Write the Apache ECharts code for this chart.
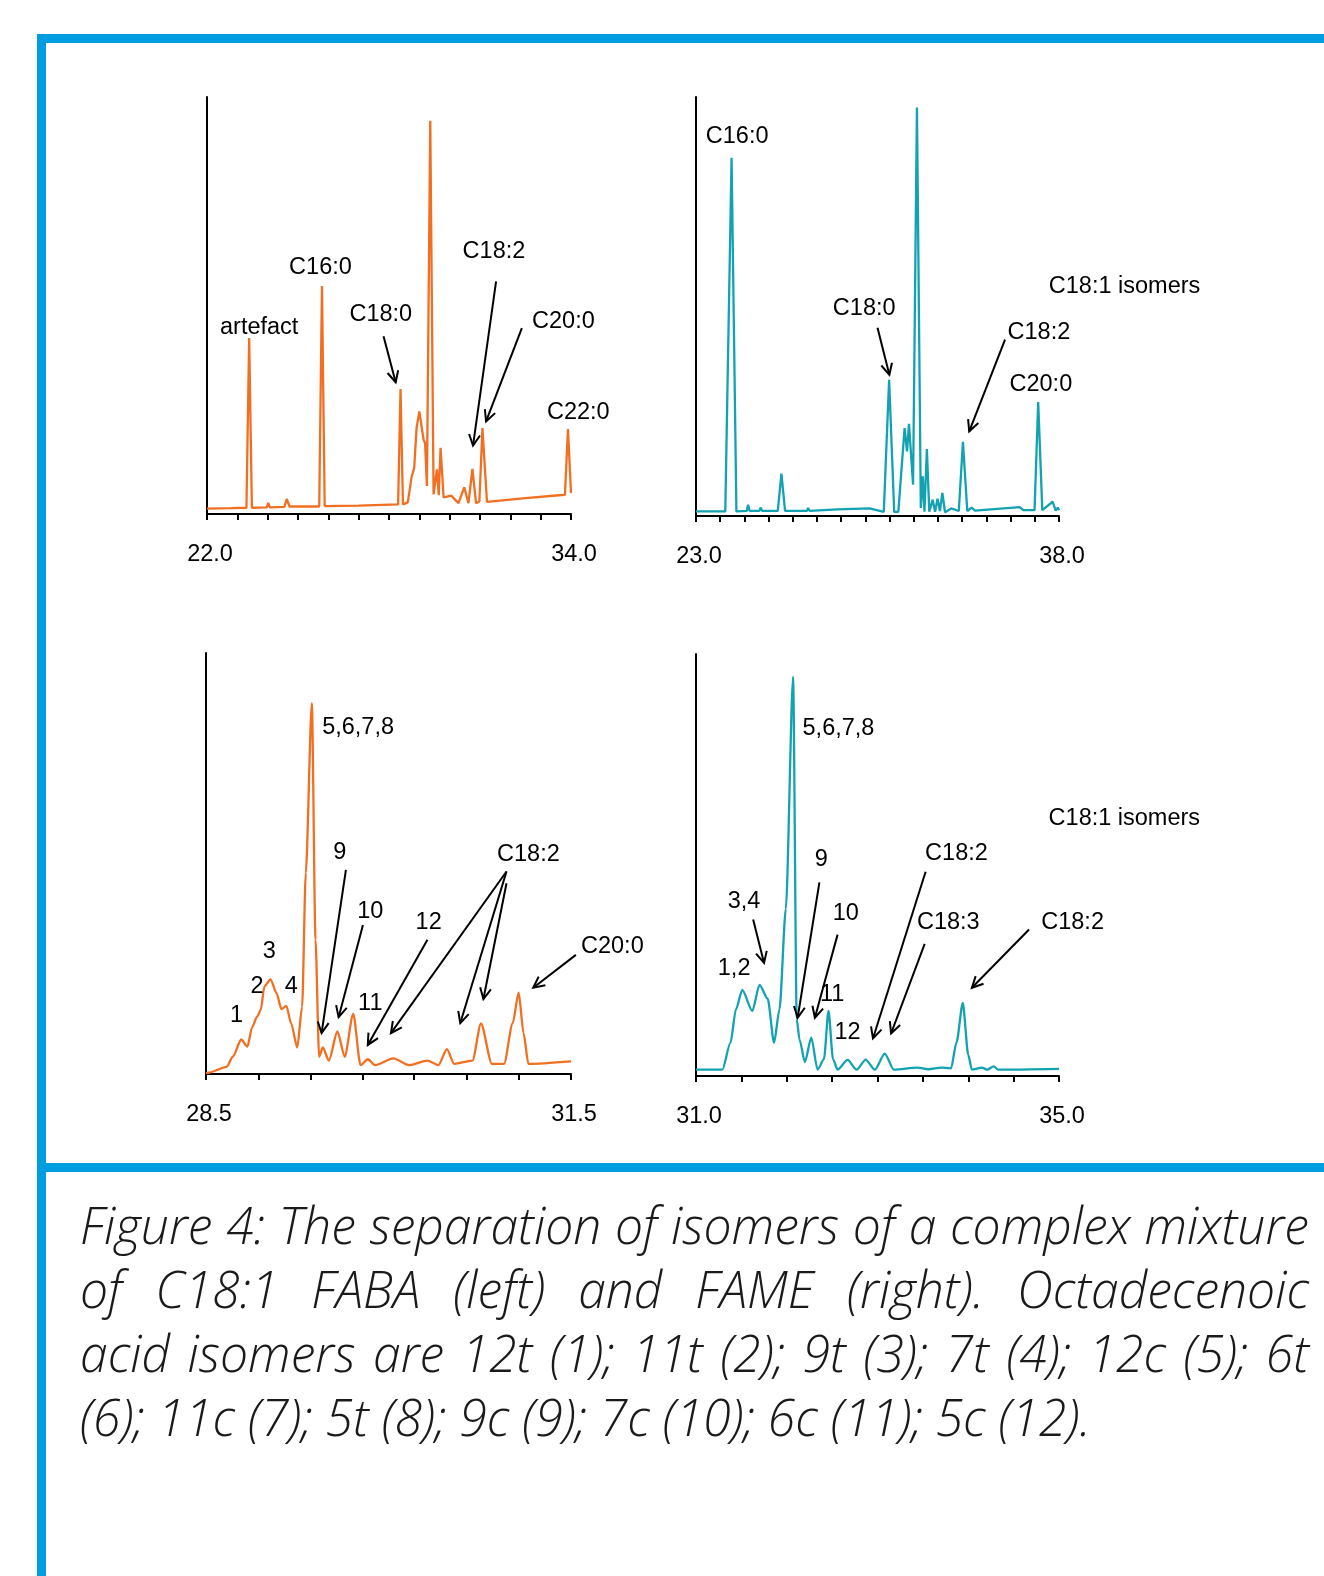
<!DOCTYPE html>
<html>
<head>
<meta charset="utf-8">
<script src="https://cdn.jsdelivr.net/npm/echarts@6/dist/echarts.min.js"></script>
<style>
html,body{margin:0;padding:0;background:#fff;}
#wrap{position:relative;width:1324px;height:1576px;overflow:hidden;}
#main{position:absolute;left:0;top:0;width:1324px;height:1576px;}
.cap{position:absolute;left:80px;font:italic 300 52px "Open Sans",sans-serif;line-height:64px;color:#1a1a1a;white-space:normal;transform-origin:0 0;}
</style>
</head>
<body>
<div id="wrap"><div id="main"></div><div id="caption"></div></div>
<script>
// retention time (min) , detector signal (% of axis height)
var fabaFull = [
  [22.00,1.3],[22.80,1.4],[23.30,1.5],[23.39,42.2],[23.48,1.5],[23.97,1.6],[24.02,2.7],[24.07,1.6],
  [24.55,1.7],[24.63,3.6],[24.72,1.8],[25.70,1.8],[25.79,54.7],[25.88,1.9],[27.00,2.0],[28.30,2.3],
  [28.38,30.0],[28.46,2.3],[28.62,2.8],[28.75,9.1],[28.83,11.0],[28.91,20.7],[29.00,24.6],[29.14,17.8],
  [29.19,17.0],[29.25,6.7],[29.36,94.3],[29.47,4.7],[29.58,10.7],[29.64,4.5],[29.70,15.9],[29.80,4.0],
  [30.05,4.4],[30.29,2.6],[30.48,6.4],[30.62,2.6],[30.75,10.8],[30.87,2.6],[30.98,3.0],[31.08,20.6],
  [31.23,2.9],[32.50,3.8],[33.60,4.5],[33.80,4.6],[33.90,20.4],[34.00,5.0]
];
var fameFull = [
  [23.00,1.1],[24.21,1.1],[24.47,85.5],[24.67,1.1],[25.10,1.2],[25.15,2.7],[25.22,1.2],[25.62,1.2],
  [25.67,2.0],[25.74,1.2],[26.38,1.2],[26.53,10.1],[26.68,1.2],[27.58,1.2],[27.63,1.9],[27.70,1.2],
  [28.84,1.6],[30.17,1.8],[30.76,1.0],[30.98,32.5],[31.19,1.0],[31.36,1.0],[31.62,21.0],[31.72,15.4],
  [31.80,22.0],[31.97,7.5],[32.13,97.5],[32.29,1.9],[32.37,9.5],[32.44,1.0],[32.54,16.0],[32.64,1.0],
  [32.78,3.9],[32.88,1.0],[32.98,4.1],[33.08,1.2],[33.18,5.5],[33.29,0.9],[33.54,1.8],[33.86,1.2],
  [34.03,17.7],[34.21,1.2],[34.39,2.0],[34.53,1.3],[36.38,2.1],[36.52,1.4],[36.99,1.4],[37.14,27.2],
  [37.31,1.4],[37.74,3.4],[37.86,1.3],[37.95,2.0],[38.00,1.4]
];
var fabaZoom = [
  [28.50,0.2],[28.52,0.3],[28.67,1.7],[28.72,4.1],[28.79,8.2],[28.84,6.5],[28.88,11.2],[28.92,13.6],
  [28.95,15.2],[28.98,20.8],[29.03,22.5],[29.08,19.2],[29.12,15.4],[29.16,16.2],[29.20,12.0],[29.25,6.3],
  [29.29,16.0],[29.32,47.7],[29.37,88.1],[29.40,31.9],[29.43,4.1],[29.46,6.3],[29.51,3.2],[29.58,10.1],
  [29.64,4.1],[29.71,14.3],[29.77,2.1],[29.83,3.5],[29.89,2.1],[30.04,3.7],[30.17,2.1],[30.32,3.2],
  [30.41,2.1],[30.48,5.9],[30.54,2.4],[30.69,3.2],[30.76,12.0],[30.85,2.4],[30.95,2.4],[31.02,12.0],
  [31.07,19.3],[31.11,9.7],[31.15,2.4],[31.50,3.0]
];
var fameZoom = [
  [31.00,1.5],[31.29,1.5],[31.38,7.9],[31.44,15.8],[31.51,20.4],[31.62,15.4],[31.70,21.6],[31.79,18.3],
  [31.86,7.9],[31.92,15.8],[31.99,39.6],[32.07,94.6],[32.11,13.5],[32.14,8.7],[32.20,3.3],[32.27,9.1],
  [32.34,1.5],[32.41,4.0],[32.46,15.4],[32.51,4.0],[32.56,1.5],[32.67,3.8],[32.77,1.5],[32.87,3.9],
  [32.97,1.5],[33.08,5.3],[33.18,1.5],[33.44,2.0],[33.56,1.6],[33.70,2.0],[33.81,1.8],[33.87,7.9],
  [33.94,17.3],[34.00,5.0],[34.04,1.5],[34.15,2.0],[34.21,1.5],[34.28,2.3],[34.33,1.5],[35.00,1.7]
];

var fabaFullTicks = [22,23,24,25,26,27,28,29,30,31,32,33,34];
var fameFullTicks = [23,24,25,26,27,28,29,30,31,32,33,34,35,36,37,38];
var fabaZoomTicks = [28.5,28.93,29.36,29.79,30.21,30.64,31.07,31.5];
var fameZoomTicks = [31,31.5,32,32.5,33,33.5,34,34.5,35];

// [panel, time, signal, text]
var peakLabels = [
  [0,23.72,44.8,'artefact'],[0,25.74,59.0,'C16:0'],[0,27.73,47.8,'C18:0'],[0,31.46,62.9,'C18:2'],
  [0,33.75,46.2,'C20:0'],[0,34.24,24.3,'C22:0'],
  [1,24.70,90.5,'C16:0'],[1,40.71,54.8,'C18:1 isomers'],[1,29.95,49.4,'C18:0'],[1,37.17,43.8,'C18:2'],
  [1,37.25,31.3,'C20:0'],
  [2,29.75,82.4,'5,6,7,8'],[2,29.60,52.5,'9'],[2,29.85,38.6,'10'],[2,30.33,36.0,'12'],[2,31.15,52.2,'C18:2'],
  [2,31.84,30.4,'C20:0'],[2,29.02,29.1,'3'],[2,28.92,20.8,'2'],[2,29.20,20.8,'4'],[2,28.75,13.8,'1'],
  [2,29.85,16.8,'11'],
  [3,32.57,82.4,'5,6,7,8'],[3,35.72,60.9,'C18:1 isomers'],[3,32.38,51.2,'9'],[3,32.65,38.5,'10'],
  [3,31.53,41.3,'3,4'],[3,31.42,25.5,'1,2'],[3,32.50,19.2,'11'],[3,32.67,10.3,'12'],[3,33.87,52.7,'C18:2'],
  [3,33.78,36.4,'C18:3'],[3,35.15,36.4,'C18:2']
];
// [panel, tail time, tail signal, tip time, tip signal]
var peakArrows = [
  [0,27.82,42.6,28.22,31.6],[0,31.53,55.8,30.77,16.4],[0,32.38,44.6,31.20,22.2],
  [1,30.50,44.9,30.99,33.7],[1,35.77,42.1,34.29,20.2],
  [2,29.65,48.5,29.45,9.7],[2,29.79,35.4,29.59,13.5],[2,30.32,31.9,29.83,6.9],[2,30.97,48.1,30.02,9.7],
  [2,30.97,48.1,30.59,12.1],[2,30.97,45.3,30.78,17.8],[2,31.54,28.3,31.19,20.5],
  [3,31.63,37.1,31.75,26.8],[3,32.36,45.9,32.12,13.8],[3,32.56,33.5,32.31,13.8],[3,33.53,48.4,32.95,8.9],
  [3,33.52,31.3,33.15,10.1],[3,34.67,34.7,34.04,20.9]
];

var captionLines = [
  'Figure 4: The separation of isomers of a complex mixture',
  'of C18:1 FABA (left) and FAME (right). Octadecenoic',
  'acid isomers are 12t (1); 11t (2); 9t (3); 7t (4); 12c (5); 6t',
  '(6); 11c (7); 5t (8); 9c (9); 7c (10); 6c (11); 5c (12).'
];

var orange = '#f26f22', teal = '#12a2b2', frameBlue = '#009ee0';
var labelFont = '"Liberation Sans", Arial, sans-serif';

var panels = [
  {data: fabaFull, ticks: fabaFullTicks, min: 22, max: 34, color: orange, smooth: false, grid: {left: 207, top: 97, width: 364, height: 417}},
  {data: fameFull, ticks: fameFullTicks, min: 23, max: 38, color: teal, smooth: false, grid: {left: 696, top: 97, width: 363, height: 419}},
  {data: fabaZoom, ticks: fabaZoomTicks, min: 28.5, max: 31.5, color: orange, smooth: 0.25, grid: {left: 206, top: 653, width: 365, height: 421}},
  {data: fameZoom, ticks: fameZoomTicks, min: 31, max: 35, color: teal, smooth: 0.25, grid: {left: 696, top: 654, width: 363, height: 422}}
];

var chart = echarts.init(document.getElementById('main'), null, {renderer: 'canvas'});

var grids = [], xAxes = [], yAxes = [], series = [];
panels.forEach(function (p, i) {
  grids.push(p.grid);
  xAxes.push({
    type: 'value', gridIndex: i, min: p.min, max: p.max,
    axisLine: {show: true, onZero: false, lineStyle: {color: '#000', width: 2}},
    axisTick: {show: true, inside: false, length: 6, customValues: p.ticks, lineStyle: {color: '#000', width: 2}},
    axisLabel: {
      show: true, customValues: [p.min, p.max], margin: 29, padding: [0, 0, 0, 6], color: '#000',
      fontSize: 23.5, fontFamily: labelFont,
      formatter: function (v) { return v.toFixed(1); }
    },
    splitLine: {show: false}
  });
  yAxes.push({
    type: 'value', gridIndex: i, min: 0, max: 100,
    axisLine: {show: true, onZero: false, lineStyle: {color: '#000', width: 2}},
    axisTick: {show: false}, axisLabel: {show: false}, splitLine: {show: false}
  });
  series.push({
    type: 'line', xAxisIndex: i, yAxisIndex: i, data: p.data,
    showSymbol: false, symbol: 'none', smooth: p.smooth, smoothMonotone: 'x',
    lineStyle: {color: p.color, width: 2.3}, itemStyle: {color: p.color}
  });
});

chart.setOption({
  animation: false,
  backgroundColor: '#fff',
  grid: grids,
  xAxis: xAxes,
  yAxis: yAxes,
  series: series
});

// frame + annotations, placed through the axes
var g = [
  {type: 'rect', shape: {x: 37, y: 34, width: 1287, height: 9}, style: {fill: frameBlue}},
  {type: 'rect', shape: {x: 37, y: 34, width: 9, height: 1542}, style: {fill: frameBlue}},
  {type: 'rect', shape: {x: 37, y: 1163, width: 1287, height: 9}, style: {fill: frameBlue}}
];
peakLabels.forEach(function (a) {
  var pt = chart.convertToPixel({gridIndex: a[0]}, [a[1], a[2]]);
  g.push({type: 'text', x: pt[0], y: pt[1], z: 10,
    style: {text: a[3], fill: '#000', font: '23.5px ' + labelFont, align: 'center', verticalAlign: 'middle'}});
});
peakArrows.forEach(function (a) {
  var p1 = chart.convertToPixel({gridIndex: a[0]}, [a[1], a[2]]);
  var p2 = chart.convertToPixel({gridIndex: a[0]}, [a[3], a[4]]);
  var dx = p2[0] - p1[0], dy = p2[1] - p1[1];
  var len = Math.sqrt(dx * dx + dy * dy), ux = dx / len, uy = dy / len;
  var hl = 11, hw = 5.5;
  g.push({type: 'line', z: 10, shape: {x1: p1[0], y1: p1[1], x2: p2[0], y2: p2[1]},
    style: {stroke: '#000', lineWidth: 2}});
  g.push({type: 'polyline', z: 10,
    shape: {points: [
      [p2[0] - hl * ux - hw * uy, p2[1] - hl * uy + hw * ux],
      [p2[0], p2[1]],
      [p2[0] - hl * ux + hw * uy, p2[1] - hl * uy - hw * ux]
    ]},
    style: {stroke: '#000', lineWidth: 2, fill: 'none'}});
});
chart.setOption({graphic: g});

// caption: justified lines, squeezed to the width of the original
var capFont = 'italic 300 52px "Open Sans", sans-serif';
var ctx = document.createElement('canvas').getContext('2d');
ctx.font = capFont;
var w = captionLines.map(function (t) { return ctx.measureText(t).width; });
var sc = Math.min(1078 / w[3], 1222 / Math.max(w[0], w[1], w[2]));
var cap = document.getElementById('caption');
captionLines.forEach(function (t, i) {
  var d = document.createElement('div');
  d.className = 'cap';
  d.textContent = t;
  d.style.top = (1192 + i * 64) + 'px';
  d.style.width = (1229 / sc) + 'px';
  d.style.transform = 'scaleX(' + sc + ')';
  d.style.textAlign = i < 3 ? 'justify' : 'left';
  d.style.textAlignLast = i < 3 ? 'justify' : 'left';
  cap.appendChild(d);
});
</script>
</body>
</html>
